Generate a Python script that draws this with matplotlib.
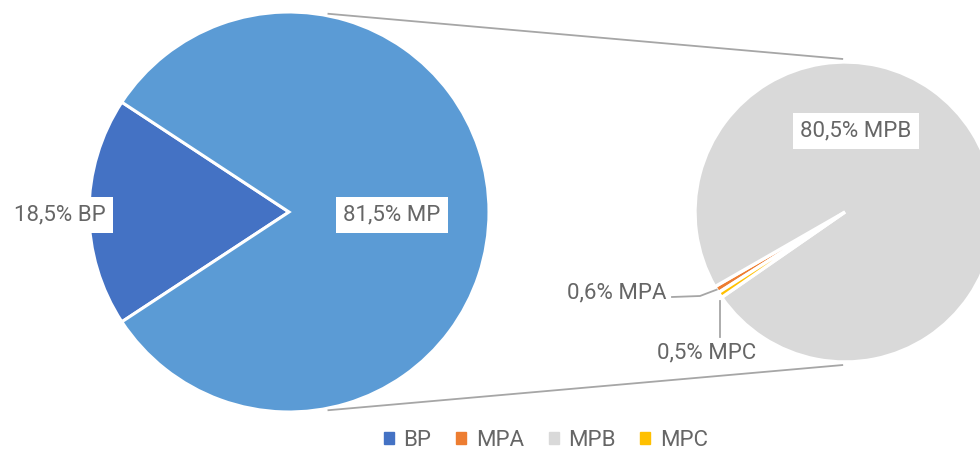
import numpy as np
import matplotlib
matplotlib.use('Agg')
import matplotlib.pyplot as plt
from matplotlib.patches import Patch

plt.rcParams['font.family'] = ['Roboto', 'DejaVu Sans']

# data (percent of total)
main_labels = ['BP', 'MP']
main_values = [18.5, 81.5]
sub_labels = ['MPA', 'MPB', 'MPC']
sub_values = [0.6, 80.5, 0.5]

main_colors = ['#4472C4', '#5B9BD5']
sub_colors = ['#ED7D31', '#D9D9D9', '#FFC000']
TEXT = '#666666'
LINE = '#A6A6A6'


def fmt(v):
    return f"{v:.1f}".replace('.', ',') + '%'


def polar(c, r, ang):
    a = np.radians(ang)
    return c[0] + r * np.cos(a), c[1] + r * np.sin(a)


fig = plt.figure(figsize=(9.8, 4.5), dpi=100)
ax = fig.add_axes([0, 0, 1, 1])

c1, r1 = (289, 238), 200
c2, r2 = (845, 238), 150

# left pie, BP centred on the left side
start1 = 180 - main_values[0] / sum(main_values) * 360 / 2
ax.pie(main_values, colors=main_colors, center=c1, radius=r1,
       startangle=start1, counterclock=True,
       wedgeprops=dict(edgecolor='white', linewidth=2.2), frame=True)

# right pie (breakdown of MP), drawn clockwise
start2 = 212.5
ax.pie(sub_values, colors=sub_colors, center=c2, radius=r2,
       startangle=start2, counterclock=False,
       wedgeprops=dict(edgecolor='white', linewidth=2.4), frame=True)
ax.set_xlim(0, 980)
ax.set_ylim(0, 450)
ax.set_aspect('equal')
ax.axis('off')

# connector lines
for sgn in (1, -1):
    x0, y0 = polar(c1, r1 + 2, sgn * 79)
    x1, y1 = polar(c2, r2 + 3, sgn * 90.7)
    ax.plot([x0, x1], [y0, y1], color=LINE, lw=1.3, solid_capstyle='butt')

box = dict(boxstyle='square,pad=0.32', fc='white', ec='none')
fs = 16
tkw = dict(fontsize=fs, color=TEXT)
ax.text(60, 450 - 215, f"{fmt(main_values[0])} {main_labels[0]}", ha='center', va='center',
        bbox=box, **tkw)
ax.text(392, 450 - 215, f"{fmt(main_values[1])} {main_labels[1]}", ha='center', va='center',
        bbox=box, **tkw)
ax.text(856, 450 - 131, f"{fmt(sub_values[1])} {sub_labels[1]}", ha='center', va='center',
        bbox=box, **tkw)

# small slices with leader lines
tot = sum(sub_values)
mpa_ang = start2 - sub_values[0] / tot * 360 / 2
mpc_ang = start2 + sub_values[2] / tot * 360 / 2
px, py = polar(c2, r2, mpa_ang)
ax.plot([672, 700, px], [450 - 297, 450 - 296, py], color=LINE, lw=1.3)
ax.text(666, 450 - 293, f"{fmt(sub_values[0])} {sub_labels[0]}", ha='right', va='center', **tkw)
qx, qy = polar(c2, r2, mpc_ang)
ax.plot([qx, qx], [qy - 6, 450 - 337], color=LINE, lw=1.3)
ax.text(qx - 13, 450 - 353, f"{fmt(sub_values[2])} {sub_labels[2]}", ha='center', va='center', **tkw)

handles = [Patch(color=main_colors[0])] + [Patch(color=c) for c in sub_colors]
ax.legend(handles, [main_labels[0]] + sub_labels, loc='center',
          bbox_to_anchor=(546 / 980, 1 - 440 / 450),
          ncol=4, frameon=False, fontsize=fs, labelcolor=TEXT,
          handlelength=0.45, handleheight=0.45, handletextpad=0.45, columnspacing=1.1)

fig.savefig('out.png', dpi=100, facecolor='white')
